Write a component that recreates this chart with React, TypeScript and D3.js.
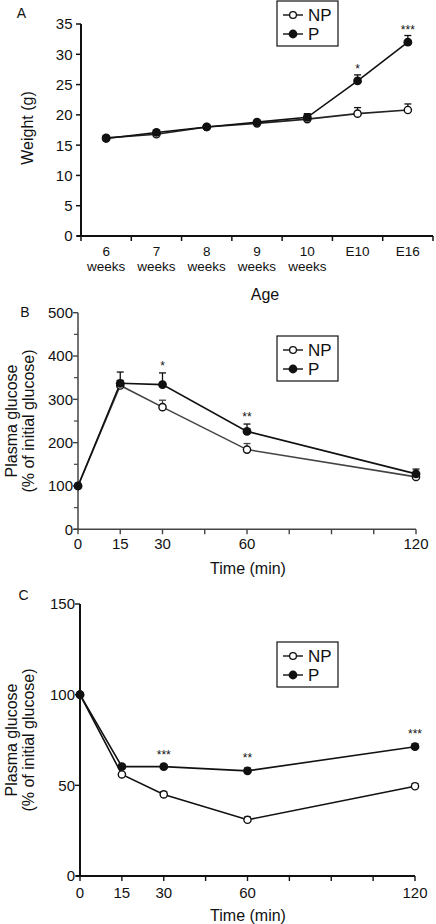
import React from "react";
import * as d3 from "d3";

// ---------- Data ----------
const ageCategories = ["6 weeks", "7 weeks", "8 weeks", "9 weeks", "10 weeks", "E10", "E16"];
const weightNP = [16.2, 16.8, 18.0, 18.6, 19.3, 20.2, 20.8];
const weightNPErr = [0.3, 0.3, 0.3, 0.3, 0.4, 1.0, 1.0];
const weightP = [16.1, 17.1, 18.0, 18.8, 19.6, 25.6, 32.0];
const weightPErr = [0.3, 0.3, 0.3, 0.3, 0.6, 1.0, 1.1];
const weightStars = [{ idx: 5, label: "*" }, { idx: 6, label: "***" }];
const weightTicks = [0, 5, 10, 15, 20, 25, 30, 35];

const times = [0, 15, 30, 60, 120];
const timeTickLabels = [0, 15, 30, 60, 120];
const timeTicks = [0, 15, 30, 45, 60, 75, 90, 105, 120];

const gttNP = [100, 332, 282, 184, 121];
const gttNPErr = [0, 12, 16, 14, 8];
const gttP = [100, 337, 334, 226, 128];
const gttPErr = [0, 26, 27, 17, 11];
const gttStars = [{ idx: 2, label: "*" }, { idx: 3, label: "**" }];
const gttTicks = [0, 100, 200, 300, 400, 500];
const gttMinorTicks = [50, 150, 250, 350, 450];

const ittNP = [100, 56, 45, 31, 49.5];
const ittNPErr = [0, 1, 1.5, 1.5, 1.5];
const ittP = [100, 60.3, 60.3, 58, 71.3];
const ittPErr = [0, 1, 1, 1.5, 1.5];
const ittStars = [{ idx: 2, label: "***" }, { idx: 3, label: "**" }, { idx: 4, label: "***" }];
const ittTicks = [0, 50, 100, 150];

const FONT = "'Liberation Sans', Arial, Helvetica, sans-serif";
const TICK_FS = 15;
const TITLE_FS = 16;

type Pt = { x: number; y: number; yTop: number };

function Series({ pts, stroke }: { pts: Pt[]; stroke: string }) {
  const line = d3.line<Pt>().x((d) => d.x).y((d) => d.y);
  return <path d={line(pts) || ""} fill="none" stroke={stroke} strokeWidth={1.6} />;
}

function ErrBars({ pts, stroke }: { pts: Pt[]; stroke: string }) {
  return (
    <g>
      {pts.map((p, i) =>
        p.yTop < p.y - 0.5 ? (
          <g key={i} stroke={stroke} strokeWidth={1.3}>
            <line x1={p.x} x2={p.x} y1={p.y} y2={p.yTop} />
            <line x1={p.x - 3.5} x2={p.x + 3.5} y1={p.yTop} y2={p.yTop} />
          </g>
        ) : null
      )}
    </g>
  );
}

function Markers({ pts, open }: { pts: Pt[]; open: boolean }) {
  return (
    <g>
      {pts.map((p, i) =>
        open ? (
          <circle key={i} cx={p.x} cy={p.y} r={3.6} fill="white" stroke="#111" strokeWidth={1.4} />
        ) : (
          <circle key={i} cx={p.x} cy={p.y} r={4.4} fill="#111" />
        )
      )}
    </g>
  );
}

function Legend({ x, y }: { x: number; y: number }) {
  return (
    <g fontFamily={FONT}>
      <rect x={x} y={y} width={61} height={45} fill="white" stroke="#111" strokeWidth={1.2} />
      <line x1={x + 6} x2={x + 26} y1={y + 14} y2={y + 14} stroke="#111" strokeWidth={1.4} />
      <circle cx={x + 16} cy={y + 14} r={3.4} fill="white" stroke="#111" strokeWidth={1.3} />
      <text x={x + 31} y={y + 14} dy="0.36em" fontSize={17} fill="#111">NP</text>
      <line x1={x + 6} x2={x + 26} y1={y + 33} y2={y + 33} stroke="#111" strokeWidth={1.4} />
      <circle cx={x + 16} cy={y + 33} r={4.4} fill="#111" />
      <text x={x + 31} y={y + 33} dy="0.36em" fontSize={17} fill="#111">P</text>
    </g>
  );
}

function PanelA() {
  const x = d3.scaleBand<string>().domain(ageCategories).range([81, 433]).paddingInner(0).paddingOuter(0);
  const y = d3.scaleLinear().domain([0, 35]).range([236, 24]);
  const cx = (c: string) => (x(c) as number) + x.bandwidth() / 2;
  const np = ageCategories.map((c, i) => ({ x: cx(c), y: y(weightNP[i]), yTop: y(weightNP[i] + weightNPErr[i]) }));
  const p = ageCategories.map((c, i) => ({ x: cx(c), y: y(weightP[i]), yTop: y(weightP[i] + weightPErr[i]) }));
  const bounds = ageCategories.map((c) => x(c) as number).concat([433]);
  return (
    <g fontFamily={FONT} fill="#111">
      <text x={21.5} y={13} dy="0.36em" textAnchor="middle" fontSize={14}>A</text>
      <line x1={81} x2={81} y1={y(35)} y2={y(0)} stroke="#111" strokeWidth={2} />
      <line x1={77} x2={433} y1={y(0)} y2={y(0)} stroke="#111" strokeWidth={2} />
      {weightTicks.map((t) => (
        <g key={t}>
          <line x1={76} x2={81} y1={y(t)} y2={y(t)} stroke="#111" strokeWidth={1.5} />
          <text x={72.5} y={y(t)} dy="0.36em" textAnchor="end" fontSize={TICK_FS}>{t}</text>
        </g>
      ))}
      {bounds.map((b, i) => (
        <line key={i} x1={b} x2={b} y1={y(0)} y2={y(0) + 5} stroke="#111" strokeWidth={1.5} />
      ))}
      {ageCategories.map((c) =>
        c.split(" ").map((s, j) => (
          <text key={c + j} x={cx(c)} y={251.5 + j * 14.5} dy="0.36em" textAnchor="middle" fontSize={13.5}>{s}</text>
        ))
      )}
      <text x={265} y={294} dy="0.36em" textAnchor="middle" fontSize={TITLE_FS}>Age</text>
      <text transform="translate(27,128) rotate(-90)" dy="0.36em" textAnchor="middle" fontSize={TITLE_FS}>Weight (g)</text>
      <Series pts={np} stroke="#222" />
      <Series pts={p} stroke="#111" />
      <ErrBars pts={np} stroke="#111" />
      <ErrBars pts={p} stroke="#111" />
      <Markers pts={np} open />
      <Markers pts={p} open={false} />
      {weightStars.map((s) => (
        <text key={s.idx} x={p[s.idx].x} y={p[s.idx].yTop - 8 + 6} textAnchor="middle" fontSize={12}>{s.label}</text>
      ))}
      <Legend x={277} y={1} />
    </g>
  );
}

function TimePanel({
  letter, letterX, letterY, x0, x1, y0, y1, yMax, ticks, minor, np, npErr, p, pErr, stars, starGap, axisColor, axisWidth, npColor, legendY, labelY, titleY,
}: any) {
  const x = d3.scaleLinear().domain([0, 120]).range([x0, x1]);
  const y = d3.scaleLinear().domain([0, yMax]).range([y0, y1]);
  const npPts = times.map((t, i) => ({ x: x(t), y: y(np[i]), yTop: y(np[i] + npErr[i]) }));
  const pPts = times.map((t, i) => ({ x: x(t), y: y(p[i]), yTop: y(p[i] + pErr[i]) }));
  const midY = (y0 + y1) / 2;
  return (
    <g fontFamily={FONT} fill="#111">
      <text x={letterX} y={letterY} dy="0.36em" textAnchor="middle" fontSize={14}>{letter}</text>
      <line x1={x0} x2={x0} y1={y1} y2={y0} stroke={axisColor} strokeWidth={axisWidth} />
      <line x1={x0 - 4} x2={x1} y1={y0} y2={y0} stroke={axisColor} strokeWidth={axisWidth} />
      {ticks.map((t: number) => (
        <g key={t}>
          <line x1={x0 - 5} x2={x0} y1={y(t)} y2={y(t)} stroke={axisColor} strokeWidth={1.4} />
          <text x={x0 - 5} y={y(t)} dy="0.36em" textAnchor="end" fontSize={TICK_FS}>{t}</text>
        </g>
      ))}
      {minor.map((t: number) => (
        <line key={t} x1={x0 - 4} x2={x0} y1={y(t)} y2={y(t)} stroke={axisColor} strokeWidth={1.2} />
      ))}
      {timeTicks.map((t) => (
        <line key={t} x1={x(t)} x2={x(t)} y1={y0} y2={y0 + 5} stroke={axisColor} strokeWidth={1.4} />
      ))}
      {timeTickLabels.map((t) => (
        <text key={t} x={x(t)} y={labelY} dy="0.36em" textAnchor="middle" fontSize={TICK_FS}>{t}</text>
      ))}
      <text x={248} y={titleY} dy="0.36em" textAnchor="middle" fontSize={TITLE_FS}>Time (min)</text>
      <text transform={`translate(11,${midY}) rotate(-90)`} dy="0.36em" textAnchor="middle" fontSize={TITLE_FS}>Plasma glucose</text>
      <text transform={`translate(28,${midY}) rotate(-90)`} dy="0.36em" textAnchor="middle" fontSize={TITLE_FS}>(% of initial glucose)</text>
      <Series pts={npPts} stroke={npColor} />
      <Series pts={pPts} stroke="#111" />
      <ErrBars pts={npPts} stroke={npColor} />
      <ErrBars pts={pPts} stroke="#111" />
      <Markers pts={npPts} open />
      <Markers pts={pPts} open={false} />
      {stars.map((s: any) => (
        <text key={s.idx} x={pPts[s.idx].x} y={pPts[s.idx].yTop - starGap + 6} textAnchor="middle" fontSize={12}>{s.label}</text>
      ))}
      <Legend x={277} y={legendY} />
    </g>
  );
}

export default function App() {
  return (
    <svg width={436} height={924} style={{ position: "absolute", left: 0, top: 0, background: "white" }}>
      <rect width={436} height={924} fill="white" />
      <PanelA />
      <TimePanel
        letter="B" letterX={25} letterY={311.5}
        x0={78} x1={416} y0={529.3} y1={312.7} yMax={500}
        ticks={gttTicks} minor={gttMinorTicks}
        np={gttNP} npErr={gttNPErr} p={gttP} pErr={gttPErr}
        stars={gttStars} starGap={9}
        axisColor="#444" axisWidth={1.5} npColor="#444"
        legendY={336} labelY={543.5} titleY={568}
      />
      <TimePanel
        letter="C" letterX={23.5} letterY={595}
        x0={80} x1={415} y0={876} y1={604} yMax={150}
        ticks={ittTicks} minor={[]}
        np={ittNP} npErr={ittNPErr} p={ittP} pErr={ittPErr}
        stars={ittStars} starGap={12}
        axisColor="#111" axisWidth={2} npColor="#111"
        legendY={642} labelY={892.5} titleY={915}
      />
    </svg>
  );
}
